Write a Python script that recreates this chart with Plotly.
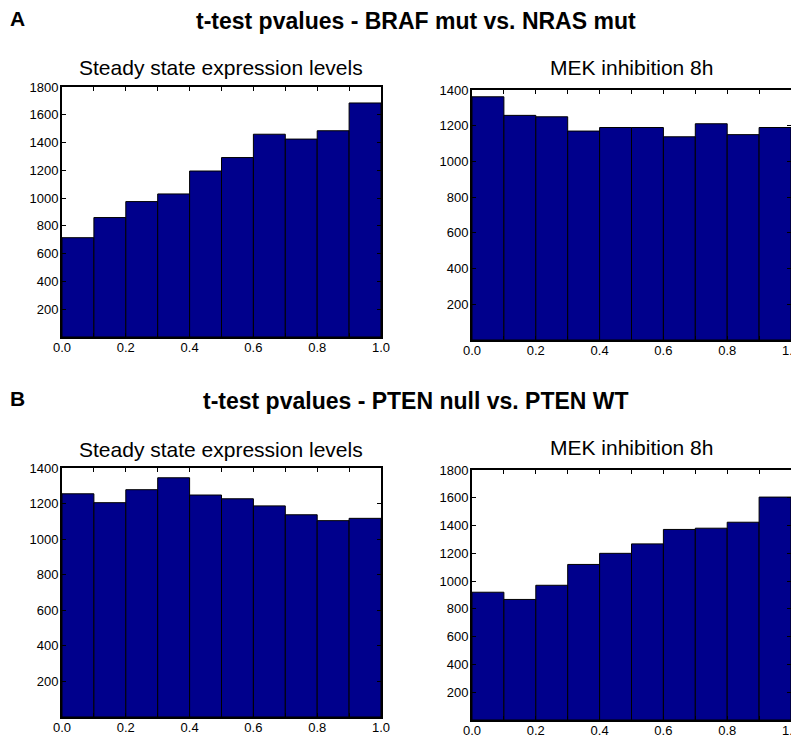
import plotly.graph_objects as go

bin_edges = [0.0, 0.1, 0.2, 0.3, 0.4, 0.5, 0.6, 0.7, 0.8, 0.9, 1.0]

a_steady = [715, 860, 975, 1030, 1195, 1292, 1460, 1425, 1485, 1685]
a_mek = [1362, 1258, 1250, 1170, 1190, 1190, 1138, 1211, 1150, 1190]
b_steady = [1255, 1205, 1278, 1345, 1248, 1227, 1187, 1137, 1104, 1117]
b_mek = [920, 868, 970, 1120, 1200, 1268, 1372, 1381, 1424, 1605]

x_tickvals = [0.0, 0.1, 0.2, 0.3, 0.4, 0.5, 0.6, 0.7, 0.8, 0.9, 1.0]
x_ticktext = ["0.0", "", "0.2", "", "0.4", "", "0.6", "", "0.8", "", "1.0"]

panel_titles = ["t-test pvalues - BRAF mut vs. NRAS mut", "t-test pvalues - PTEN null vs. PTEN WT"]
panel_letters = ["A", "B"]
sub_titles = ["Steady state expression levels", "MEK inhibition 8h"]

W, H = 799, 743
OFF = 8  # page body margin
FW, FH = W - OFF, H - OFF

def px_x(p):
    return (p - OFF) / FW

def px_y(p):
    return 1 - (p - OFF) / FH

# plot rectangles in page pixels (left, right, top, bottom)
rects = [
    (62, 381, 87, 337, a_steady, 1800),
    (472, 791, 90, 340, a_mek, 1400),
    (62, 381, 468, 717, b_steady, 1400),
    (472, 791, 470, 720, b_mek, 1800),
]

fig = go.Figure()
centers = [(bin_edges[i] + bin_edges[i + 1]) / 2 for i in range(len(bin_edges) - 1)]
widths = [bin_edges[i + 1] - bin_edges[i] for i in range(len(bin_edges) - 1)]

layout = dict(
    width=FW, height=FH,
    margin=dict(l=0, r=0, t=0, b=0, autoexpand=False),
    paper_bgcolor="white", plot_bgcolor="white",
    showlegend=False,
    font=dict(family="Liberation Sans, Arial, sans-serif", color="black"),
)

for i, (l, r, t, b, vals, ymax) in enumerate(rects):
    xa = "x" if i == 0 else f"x{i+1}"
    ya = "y" if i == 0 else f"y{i+1}"
    fig.add_trace(go.Bar(
        x=centers, y=vals, width=widths,
        marker=dict(color="#00008c", line=dict(color="black", width=1)),
        xaxis=xa, yaxis=ya, hoverinfo="x+y",
    ))
    xk = "xaxis" if i == 0 else f"xaxis{i+1}"
    yk = "yaxis" if i == 0 else f"yaxis{i+1}"
    layout[xk] = dict(
        domain=[px_x(l), min(px_x(r), 1.0)], anchor=ya, range=[0, 1],
        tickvals=x_tickvals, ticktext=x_ticktext,
        ticks="inside", ticklen=4, tickwidth=1, tickcolor="black",
        showline=True, linewidth=2, linecolor="black", mirror="ticks",
        showgrid=False, zeroline=False, automargin=False,
        tickfont=dict(size=13, color="black"),
        ticklabeloverflow="allow", ticklabelstandoff=-3,
    )
    layout[yk] = dict(
        domain=[max(px_y(b), 0.0), px_y(t)], anchor=xa, range=[0, ymax],
        tickvals=list(range(200, ymax + 1, 200)),
        ticks="inside", ticklen=4, tickwidth=1, tickcolor="black",
        showline=True, linewidth=2, linecolor="black", mirror="ticks",
        showgrid=False, zeroline=False, automargin=False,
        tickfont=dict(size=13, color="black"),
        ticklabeloverflow="allow", ticklabelstandoff=-1,
    )

fig.update_layout(**layout)

annotations = []
for (ty, ly, title, letter) in [(21, 18.5, panel_titles[0], panel_letters[0]),
                                (401, 398.5, panel_titles[1], panel_letters[1])]:
    annotations.append(dict(x=px_x(416), y=px_y(ty), xref="paper", yref="paper",
                            text=f"<b>{title}</b>", showarrow=False,
                            font=dict(size=23, color="black"), xanchor="center", yanchor="middle"))
    annotations.append(dict(x=px_x(8), y=px_y(ly), xref="paper", yref="paper",
                            text=f"<b>{letter}</b>", showarrow=False,
                            font=dict(size=21, color="black"), xanchor="left", yanchor="middle"))
sub_y = [68, 68, 450, 447]
for i, (l, r, t, b, vals, ymax) in enumerate(rects):
    annotations.append(dict(x=px_x((l + r) / 2), y=px_y(sub_y[i]), xref="paper", yref="paper",
                            text=sub_titles[i % 2], showarrow=False,
                            font=dict(size=21, color="black"), xanchor="center", yanchor="middle"))
fig.update_layout(annotations=annotations)

fig.write_html("out.html")
